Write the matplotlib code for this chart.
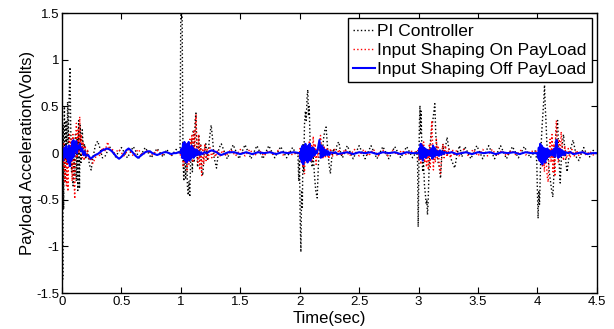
import matplotlib
matplotlib.use("Agg")
import matplotlib.pyplot as plt

plt.rcParams['font.family'] = ['Liberation Sans', 'DejaVu Sans']

# ---------------- data ----------------
pi_t = [0.000, 0.006, 0.010, 0.014, 0.020, 0.027, 0.033, 0.040, 0.047, 0.053, 0.060, 0.067, 0.073, 0.080,
        0.087, 0.093, 0.100, 0.107, 0.113, 0.120, 0.127, 0.133, 0.140, 0.147, 0.153, 0.160, 0.170, 0.180,
        0.190, 0.200, 0.215, 0.230, 0.245, 0.260, 0.280, 0.300, 0.320, 0.340,
        0.36, 0.40, 0.45, 0.50, 0.55, 0.60, 0.65, 0.70, 0.75, 0.80, 0.85, 0.88, 0.92, 0.96, 0.99,
        0.993, 1.000, 1.010, 1.018, 1.025, 1.032, 1.040, 1.048, 1.055, 1.062, 1.068, 1.075, 1.082, 1.090,
        1.097, 1.105, 1.112, 1.120, 1.127, 1.134, 1.141, 1.150, 1.158, 1.166, 1.175, 1.185, 1.195, 1.210,
        1.225, 1.240, 1.255, 1.265, 1.280, 1.300, 1.320,
        1.34, 1.39, 1.44, 1.49, 1.54, 1.59, 1.64, 1.69, 1.74, 1.79, 1.84, 1.89, 1.94, 1.975,
        1.985, 1.992, 1.998, 2.004, 2.010, 2.016, 2.022, 2.028, 2.034, 2.040, 2.048, 2.055, 2.062, 2.068,
        2.074, 2.080, 2.088, 2.095, 2.105, 2.115, 2.125, 2.135, 2.147, 2.158, 2.168, 2.178, 2.188, 2.200,
        2.212, 2.222, 2.232, 2.245, 2.258, 2.270, 2.285, 2.300, 2.315, 2.330, 2.345, 2.360,
        2.40, 2.45, 2.50, 2.55, 2.60, 2.65, 2.70, 2.75, 2.80, 2.85, 2.90, 2.95, 2.985,
        2.992, 2.997, 3.002, 3.007, 3.012, 3.017, 3.022, 3.028, 3.035, 3.042, 3.050, 3.058, 3.065, 3.070,
        3.075, 3.080, 3.088, 3.095, 3.105, 3.115, 3.125, 3.137, 3.145, 3.155, 3.165, 3.175, 3.185, 3.195,
        3.205, 3.215, 3.225, 3.240, 3.255, 3.270, 3.285, 3.305, 3.325, 3.345, 3.365,
        3.39, 3.44, 3.49, 3.54, 3.59, 3.64, 3.69, 3.74, 3.79, 3.84, 3.89, 3.94, 3.985,
        3.995, 4.000, 4.006, 4.012, 4.018, 4.025, 4.032, 4.040, 4.048, 4.055, 4.060, 4.066, 4.072, 4.080,
        4.090, 4.100, 4.110, 4.120, 4.130, 4.140, 4.150, 4.160, 4.170, 4.178, 4.185, 4.192, 4.200, 4.210,
        4.220, 4.230, 4.240, 4.250, 4.265, 4.280, 4.300, 4.315, 4.330, 4.350, 4.370, 4.390, 4.41, 4.44,
        4.47, 4.50]
pi_v = [0.00, -1.35, 0.30, -0.60, 0.50, -0.30, 0.35, -0.10, 0.55, 0.10, 0.60, 0.92, 0.30, -0.20,
        0.10, -0.35, 0.05, -0.25, 0.20, -0.30, 0.15, -0.40, 0.35, -0.38, 0.30, -0.10, 0.25, 0.05,
        0.10, -0.05, 0.02, -0.12, -0.18, -0.05, 0.08, 0.13, 0.05, -0.05,
        -0.04, 0.07, -0.04, 0.06, -0.05, 0.07, -0.05, 0.06, -0.05, 0.05, -0.04, 0.04, -0.03, 0.04, 0.00,
        0.00, 1.60, 1.60, -0.05, -0.30, 0.10, -0.28, 0.05, -0.35, -0.45, -0.30, -0.47, -0.10, 0.15,
        -0.20, 0.25, -0.10, 0.35, 0.43, 0.05, -0.15, 0.20, -0.05, 0.10, -0.20, -0.24, 0.00, 0.10,
        -0.08, 0.15, 0.30, 0.18, -0.05, -0.16, 0.05,
        0.10, -0.06, 0.09, -0.06, 0.09, -0.06, 0.08, -0.06, 0.08, -0.05, 0.07, -0.05, 0.06, -0.02,
        0.00, -0.30, -0.05, -0.70, -1.06, -0.40, -0.60, 0.10, -0.20, 0.30, 0.45, 0.35, 0.60, 0.68,
        0.40, 0.50, 0.10, -0.05, -0.15, -0.05, -0.25, -0.40, -0.48, -0.10, 0.05, 0.10, -0.05, 0.15,
        0.25, 0.28, 0.10, -0.10, -0.22, -0.05, 0.05, -0.02, 0.10, 0.12, 0.00, -0.05,
        0.08, -0.06, 0.08, -0.06, 0.08, -0.06, 0.07, -0.06, 0.07, -0.05, 0.07, -0.05, 0.02,
        -0.10, -0.79, -0.20, 0.30, 0.51, 0.20, 0.45, 0.00, -0.20, -0.10, -0.35, -0.45, -0.55, -0.50,
        -0.66, -0.55, -0.20, 0.05, 0.20, 0.30, 0.40, 0.53, 0.20, 0.05, -0.10, -0.15, -0.27, -0.05,
        0.10, 0.00, 0.05, 0.17, 0.05, -0.05, -0.10, -0.16, 0.00, 0.08, -0.04,
        0.07, -0.06, 0.08, -0.06, 0.08, -0.06, 0.08, -0.06, 0.07, -0.05, 0.07, -0.05, 0.03,
        -0.10, -0.40, -0.70, -0.40, -0.55, -0.20, 0.10, 0.30, 0.45, 0.60, 0.73, 0.50, 0.35, 0.10,
        -0.05, -0.20, -0.30, -0.40, -0.47, -0.20, 0.10, 0.25, 0.35, 0.05, -0.15, -0.32, -0.10, 0.10,
        0.20, 0.05, -0.10, -0.20, -0.05, 0.05, 0.14, 0.05, -0.05, -0.08, 0.00, 0.06, 0.00, -0.04,
        0.03, -0.02]

on_t = [0.000, 0.008, 0.015, 0.022, 0.030, 0.037, 0.044, 0.050, 0.057, 0.064, 0.071, 0.078, 0.085, 0.092,
        0.099, 0.107, 0.114, 0.121, 0.128, 0.135, 0.142, 0.149, 0.156, 0.163, 0.170, 0.178, 0.186, 0.195,
        0.205, 0.215, 0.230, 0.245, 0.26, 0.28, 0.30, 0.32, 0.34, 0.36, 0.385, 0.40, 0.42,
        0.44, 0.48, 0.52, 0.56, 0.60, 0.64, 0.68, 0.72, 0.76, 0.80, 0.84, 0.88, 0.92, 0.96, 0.99,
        1.005, 1.012, 1.020, 1.028, 1.036, 1.044, 1.052, 1.060, 1.068, 1.076, 1.084, 1.092, 1.100, 1.108,
        1.116, 1.124, 1.128, 1.134, 1.142, 1.150, 1.158, 1.166, 1.175, 1.184, 1.193, 1.202, 1.212, 1.222,
        1.232, 1.245, 1.26, 1.275, 1.29, 1.31, 1.33, 1.35,
        1.38, 1.42, 1.46, 1.50, 1.54, 1.58, 1.62, 1.66, 1.70, 1.74, 1.78, 1.82, 1.86, 1.90, 1.94, 1.98,
        1.995, 2.003, 2.011, 2.019, 2.027, 2.035, 2.040, 2.048, 2.056, 2.064, 2.072, 2.080, 2.088, 2.096,
        2.104, 2.114, 2.122, 2.130, 2.138, 2.146, 2.155, 2.165, 2.175, 2.185, 2.195, 2.205, 2.215, 2.23,
        2.245, 2.26, 2.275, 2.29, 2.31, 2.33, 2.35,
        2.38, 2.42, 2.46, 2.50, 2.54, 2.58, 2.62, 2.66, 2.70, 2.74, 2.78, 2.82, 2.86, 2.90, 2.94, 2.98,
        2.995, 3.003, 3.011, 3.019, 3.027, 3.035, 3.043, 3.051, 3.059, 3.067, 3.075, 3.083, 3.091, 3.099,
        3.107, 3.112, 3.118, 3.125, 3.133, 3.141, 3.150, 3.158, 3.166, 3.175, 3.185, 3.195, 3.205, 3.215,
        3.225, 3.24, 3.255, 3.27, 3.285, 3.30, 3.32, 3.34,
        3.38, 3.42, 3.46, 3.50, 3.54, 3.58, 3.62, 3.66, 3.70, 3.74, 3.78, 3.82, 3.86, 3.90, 3.94, 3.98,
        3.995, 4.003, 4.011, 4.019, 4.027, 4.035, 4.043, 4.051, 4.059, 4.067, 4.075, 4.083, 4.091, 4.099,
        4.107, 4.115, 4.123, 4.131, 4.139, 4.147, 4.155, 4.160, 4.168, 4.176, 4.184, 4.192, 4.20, 4.21,
        4.22, 4.23, 4.245, 4.26, 4.275, 4.29, 4.31, 4.33, 4.35, 4.38, 4.41, 4.44, 4.47, 4.50]
on_v = [0.00, -0.15, 0.10, -0.30, 0.05, -0.35, 0.00, -0.41, 0.10, 0.20, -0.10, 0.15, -0.30, 0.20,
        -0.20, -0.49, 0.10, 0.32, -0.05, 0.25, 0.00, 0.39, 0.05, 0.20, -0.05, 0.12, -0.08, 0.08,
        -0.05, 0.03, -0.08, -0.05, -0.11, -0.05, 0.00, -0.03, 0.06, 0.02, 0.12, 0.03, 0.05,
        0.00, 0.04, -0.03, 0.04, -0.03, 0.04, -0.02, 0.03, -0.02, 0.03, -0.02, 0.02, -0.02, 0.01, 0.00,
        -0.05, 0.05, -0.15, 0.00, -0.10, 0.10, -0.18, 0.05, -0.12, 0.15, -0.05, 0.19, -0.10, 0.25,
        0.00, 0.35, 0.41, 0.10, -0.10, 0.20, -0.18, 0.10, -0.24, 0.05, -0.12, 0.10, -0.08, 0.05,
        -0.06, 0.06, -0.05, 0.04, -0.04, 0.03, -0.03, 0.03,
        -0.03, 0.04, -0.03, 0.04, -0.03, 0.04, -0.03, 0.03, -0.03, 0.03, -0.02, 0.03, -0.02, 0.02, -0.02, 0.01,
        -0.03, 0.05, -0.10, 0.05, -0.15, 0.00, -0.22, 0.05, -0.10, 0.08, -0.05, 0.12, -0.10, 0.10,
        -0.08, 0.18, -0.05, 0.10, -0.12, 0.05, -0.05, 0.10, 0.19, 0.05, -0.05, 0.08, -0.05, 0.06,
        -0.06, 0.05, -0.04, 0.04, -0.03, 0.04, -0.03,
        0.04, -0.03, 0.04, -0.03, 0.04, -0.03, 0.04, -0.03, 0.03, -0.03, 0.03, -0.02, 0.03, -0.02, 0.02, 0.01,
        0.03, -0.08, 0.05, -0.12, 0.10, -0.05, 0.12, -0.10, 0.05, -0.15, 0.05, -0.18, 0.10, -0.15,
        0.25, 0.35, 0.10, -0.18, 0.05, -0.10, 0.15, -0.05, 0.08, -0.15, -0.22, 0.00, 0.10, -0.05,
        0.08, -0.04, 0.05, -0.05, 0.04, -0.03, 0.03, -0.03,
        0.04, -0.03, 0.04, -0.03, 0.04, -0.03, 0.04, -0.03, 0.03, -0.03, 0.03, -0.02, 0.03, -0.02, 0.02, 0.02,
        0.02, -0.05, 0.05, -0.10, 0.06, 0.09, -0.15, 0.05, -0.20, 0.05, -0.10, -0.25, -0.31, 0.00,
        0.15, -0.10, 0.20, -0.20, 0.10, -0.25, 0.25, 0.35, 0.10, -0.10, 0.15, -0.05, 0.23, 0.05,
        -0.08, 0.08, -0.06, 0.05, -0.05, 0.04, -0.03, 0.03, -0.03, 0.02, -0.02, 0.02, -0.02, 0.00]

off_t = [0.000, 0.006, 0.012, 0.018, 0.024, 0.030, 0.036, 0.042, 0.048, 0.054, 0.060, 0.066, 0.072, 0.078,
         0.084, 0.090, 0.096, 0.102, 0.108, 0.114, 0.120, 0.126, 0.132, 0.140, 0.150, 0.160, 0.170, 0.180,
         0.19, 0.20, 0.22, 0.24, 0.26, 0.28, 0.30, 0.32, 0.34, 0.36, 0.38, 0.40, 0.42, 0.44, 0.46, 0.48,
         0.50, 0.52, 0.54, 0.56, 0.58, 0.60, 0.62, 0.64, 0.66, 0.68, 0.70, 0.72, 0.74, 0.76, 0.78, 0.80,
         0.82, 0.84, 0.86, 0.88, 0.90, 0.92, 0.94, 0.96, 0.98,
         1.000, 1.006, 1.012, 1.018, 1.024, 1.030, 1.036, 1.042, 1.048, 1.054, 1.060, 1.066, 1.072, 1.078,
         1.084, 1.090, 1.096, 1.102, 1.108, 1.116, 1.124, 1.132, 1.14, 1.15, 1.16, 1.17, 1.18, 1.20,
         1.22, 1.24, 1.26, 1.28, 1.30, 1.32, 1.34, 1.36, 1.38, 1.40, 1.45, 1.50, 1.55, 1.60, 1.65, 1.70,
         1.75, 1.80, 1.85, 1.90, 1.95,
         2.000, 2.006, 2.012, 2.018, 2.024, 2.030, 2.036, 2.042, 2.048, 2.054, 2.060, 2.066, 2.072, 2.078,
         2.084, 2.090, 2.096, 2.102, 2.108, 2.114, 2.120, 2.128, 2.136, 2.144, 2.152, 2.160, 2.166, 2.172,
         2.178, 2.184, 2.190, 2.196, 2.202, 2.208, 2.216, 2.224, 2.232, 2.24, 2.25, 2.26, 2.28, 2.30,
         2.32, 2.36, 2.40, 2.45, 2.50, 2.55, 2.60, 2.65, 2.70, 2.75, 2.80, 2.85, 2.90, 2.95,
         3.000, 3.006, 3.012, 3.018, 3.024, 3.030, 3.036, 3.042, 3.048, 3.054, 3.060, 3.066, 3.072, 3.080,
         3.088, 3.096, 3.104, 3.110, 3.116, 3.122, 3.128, 3.134, 3.140, 3.148, 3.156, 3.164, 3.172, 3.18,
         3.19, 3.20, 3.21, 3.22, 3.24, 3.28, 3.32, 3.36, 3.40, 3.45, 3.50, 3.55, 3.60, 3.65, 3.70, 3.75,
         3.80, 3.85, 3.90, 3.95,
         4.000, 4.006, 4.012, 4.018, 4.024, 4.030, 4.036, 4.042, 4.048, 4.054, 4.060, 4.066, 4.072, 4.078,
         4.084, 4.090, 4.096, 4.104, 4.112, 4.120, 4.128, 4.136, 4.144, 4.150, 4.156, 4.162, 4.168, 4.174,
         4.180, 4.186, 4.192, 4.198, 4.206, 4.214, 4.222, 4.23, 4.24, 4.26, 4.28, 4.30, 4.34, 4.38, 4.42,
         4.46, 4.50]
off_v = [0.00, -0.08, 0.05, -0.05, 0.06, -0.04, 0.08, -0.06, 0.04, -0.10, 0.08, -0.14, 0.05, -0.08,
         0.12, -0.05, 0.14, -0.03, 0.10, 0.02, 0.13, 0.00, 0.08, 0.05, 0.10, 0.02, 0.05, -0.02,
         0.02, -0.03, -0.02, -0.06, -0.04, -0.02, -0.01, 0.01, 0.03, 0.04, 0.05, 0.04, 0.02, -0.01, -0.04, -0.06,
         -0.04, -0.01, 0.03, 0.05, 0.03, 0.00, -0.03, -0.05, -0.03, -0.01, 0.01, 0.02, 0.02, 0.00, -0.01, -0.02,
         -0.01, 0.00, 0.01, 0.01, 0.00, -0.01, 0.00, 0.00, 0.01,
         0.00, 0.05, -0.05, 0.10, -0.06, 0.12, -0.08, 0.08, -0.10, 0.10, -0.05, 0.12, -0.08, 0.06,
         -0.06, 0.08, -0.04, 0.06, -0.05, 0.04, -0.03, 0.04, -0.02, 0.02, -0.02, 0.01, -0.01, 0.01,
         0.00, 0.02, 0.03, 0.02, 0.01, -0.01, -0.02, -0.01, 0.00, 0.01, 0.01, -0.01, 0.01, -0.01, 0.01, 0.00,
         0.01, -0.01, 0.01, 0.00, 0.01,
         0.00, -0.06, 0.05, -0.10, 0.08, -0.12, 0.05, -0.08, 0.10, -0.06, 0.06, -0.10, 0.08, -0.05,
         0.10, -0.08, 0.05, -0.05, 0.06, -0.03, 0.05, -0.02, 0.02, 0.00, 0.04, 0.10, 0.14, 0.05,
         -0.05, 0.08, -0.04, 0.06, -0.03, 0.04, -0.02, 0.03, -0.02, 0.02, -0.02, 0.01, 0.00, 0.01,
         -0.01, 0.00, 0.01, -0.01, 0.01, 0.00, 0.01, -0.01, 0.01, 0.00, 0.01, -0.01, 0.01, 0.00,
         0.00, 0.05, -0.06, 0.10, -0.05, 0.08, -0.08, 0.06, -0.04, 0.05, -0.05, 0.04, -0.03, 0.03,
         -0.02, 0.03, -0.03, 0.05, -0.06, 0.08, -0.04, 0.06, -0.03, 0.03, -0.02, 0.02, -0.03, 0.03,
         -0.02, 0.02, -0.01, 0.01, 0.00, 0.01, -0.01, 0.00, 0.01, -0.01, 0.01, 0.00, 0.01, -0.01, 0.01, 0.00,
         0.01, -0.01, 0.01, 0.00,
         0.00, -0.05, 0.06, -0.08, 0.10, -0.10, 0.08, -0.12, 0.06, -0.08, 0.05, -0.10, 0.04, -0.06,
         0.05, -0.04, 0.03, -0.03, 0.02, -0.02, 0.03, -0.03, 0.05, -0.04, 0.08, 0.14, 0.02, -0.05,
         0.05, -0.04, 0.04, -0.03, 0.03, -0.02, 0.02, -0.02, 0.01, 0.00, 0.01, -0.01, 0.00, 0.01, -0.01,
         0.00, 0.00]

labels = ["PI Controller", "Input Shaping On PayLoad", "Input Shaping Off PayLoad"]
x_ticks = [0, 0.5, 1, 1.5, 2, 2.5, 3, 3.5, 4, 4.5]
x_tick_labels = ["0", "0.5", "1", "1.5", "2", "2.5", "3", "3.5", "4", "4.5"]
y_ticks = [-1.5, -1, -0.5, 0, 0.5, 1, 1.5]
y_tick_labels = ["-1.5", "-1", "-0.5", "0", "0.5", "1", "1.5"]

# ---------------- figure ----------------
fig = plt.figure(figsize=(6.14, 3.29), dpi=100)
ax = fig.add_axes([0.101, 0.109, 0.871, 0.851])

ax.plot(pi_t, pi_v, color='black', linestyle=':', linewidth=1.0, label=labels[0])
ax.plot(on_t, on_v, color='red', linestyle=':', linewidth=1.0, label=labels[1])
ax.plot(off_t, off_v, color='blue', linestyle='-', linewidth=1.5, label=labels[2])

ax.set_xlim(0, 4.5)
ax.set_ylim(-1.5, 1.5)
ax.set_xticks(x_ticks)
ax.set_xticklabels(x_tick_labels)
ax.set_yticks(y_ticks)
ax.set_yticklabels(y_tick_labels)
ax.tick_params(direction='in', top=True, right=True, length=4, width=0.8, labelsize=9.5, pad=2)
for s in ax.spines.values():
    s.set_linewidth(1.0)

ax.set_xlabel("Time(sec)", fontsize=12, labelpad=2)
ax.set_ylabel("Payload Acceleration(Volts)", fontsize=12, labelpad=1)

leg = ax.legend(loc='upper right', fontsize=12.5, frameon=True, fancybox=False, framealpha=1,
                edgecolor='black', borderpad=0.3, labelspacing=0.22, handlelength=1.3,
                handletextpad=0.1, borderaxespad=0.3)
leg.get_frame().set_linewidth(1.0)

fig.savefig("out.png", dpi=100)
